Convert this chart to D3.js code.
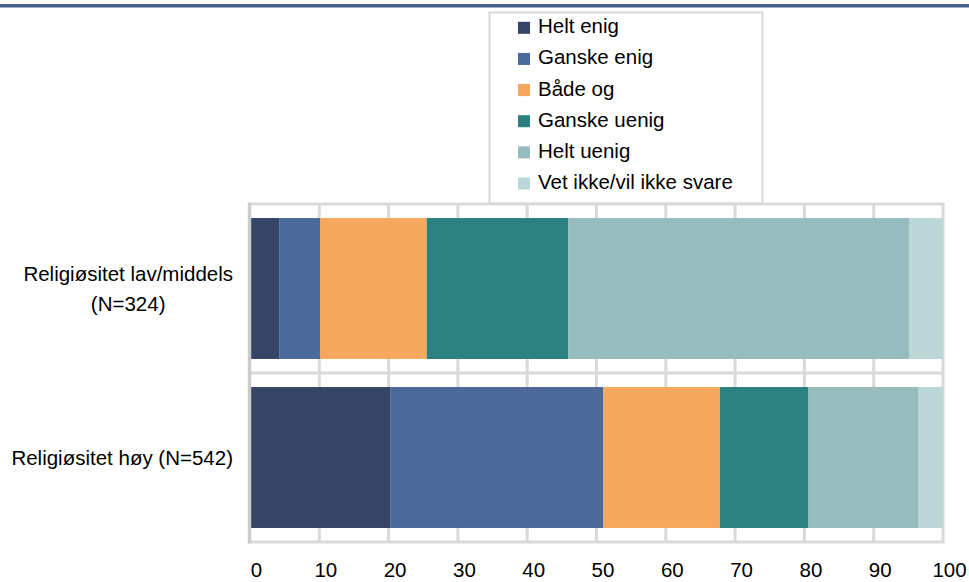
<!DOCTYPE html>
<html>
<head>
<meta charset="utf-8">
<script src="https://cdn.jsdelivr.net/npm/d3@7"></script>
<style>
  html, body { margin: 0; padding: 0; background: #ffffff; }
  svg { display: block; font-family: "Liberation Sans", Arial, sans-serif; }
</style>
</head>
<body>
<svg id="chart" width="969" height="582"></svg>
<script>
// Respondent groups (one stacked bar each), with line breaks for the axis labels
const categories = ["Religiøsitet lav/middels (N=324)", "Religiøsitet høy (N=542)"];
const categoryLines = [["Religiøsitet lav/middels", "(N=324)"], ["Religiøsitet høy (N=542)"]];

// Answer options, in stacking order
const seriesNames = ["Helt enig", "Ganske enig", "Både og", "Ganske uenig", "Helt uenig", "Vet ikke/vil ikke svare"];

// Percentages per group for each answer option
const heltEnig    = [4.2, 20.3];
const ganskeEnig  = [5.9, 30.7];
const badeOg      = [15.4, 16.8];
const ganskeUenig = [20.4, 12.8];
const heltUenig   = [49.2, 15.9];
const vetIkke     = [4.9, 3.5];

const seriesColors = ["#344566", "#4b6a9b", "#f6a95e", "#2b817f", "#97bcbd", "#bcd7d8"];

// Axis ticks
const xTicks = [0, 10, 20, 30, 40, 50, 60, 70, 80, 90, 100];

const seriesValues = [heltEnig, ganskeEnig, badeOg, ganskeUenig, heltUenig, vetIkke];
const rows = categories.map((c, i) => {
  const r = { category: c };
  seriesNames.forEach((s, j) => { r[s] = seriesValues[j][i]; });
  return r;
});

const svg = d3.select("#chart");
const W = 969, H = 582;
const plot = { left: 250, right: 943, top: 204, bottom: 542 };
const gridColor = "#d9d9d9";
const fontSize = "20.5px";

// Top rule
svg.append("rect").attr("x", 0).attr("y", 4).attr("width", W).attr("height", 3.5).attr("fill", "#44608a");

const x = d3.scaleLinear().domain([0, 100]).range([plot.left, plot.right]);
const y = d3.scaleBand().domain(categories).range([plot.top, plot.bottom])
  .paddingInner(0.166).paddingOuter(0.083);

// Legend
const legend = svg.append("g");
legend.append("rect")
  .attr("x", 489.5).attr("y", 12.5).attr("width", 273).attr("height", 191)
  .attr("fill", "#ffffff").attr("stroke", gridColor).attr("stroke-width", 2);
const legendItem = legend.selectAll("g.item").data(seriesNames).join("g")
  .attr("class", "item")
  .attr("transform", (d, i) => `translate(518, ${33.3 + i * 31.14})`);
legendItem.append("rect")
  .attr("x", 0).attr("y", -11.5).attr("width", 12).attr("height", 12)
  .attr("fill", (d, i) => seriesColors[i]);
legendItem.append("text")
  .attr("x", 20).attr("y", 0)
  .attr("font-size", fontSize).attr("fill", "#000")
  .text(d => d);

// Grid: vertical lines at each tick, horizontal lines at band boundaries, and frame
const grid = svg.append("g");
grid.selectAll("line.v").data(xTicks.slice(1)).join("line")
  .attr("class", "v")
  .attr("x1", d => x(d)).attr("x2", d => x(d))
  .attr("y1", plot.top).attr("y2", plot.bottom)
  .attr("stroke", gridColor).attr("stroke-width", 3);
const bandEdges = [plot.top, (plot.top + plot.bottom) / 2, plot.bottom];
grid.selectAll("line.h").data(bandEdges).join("line")
  .attr("class", "h")
  .attr("x1", plot.left).attr("x2", plot.right + 1.5)
  .attr("y1", d => d).attr("y2", d => d)
  .attr("stroke", gridColor).attr("stroke-width", 3);

// Stacked bars
const stack = d3.stack().keys(seriesNames);
const layers = stack(rows);
svg.append("g").selectAll("g").data(layers).join("g")
  .attr("fill", (d, i) => seriesColors[i])
  .selectAll("rect").data(d => d).join("rect")
  .attr("x", d => x(d[0]))
  .attr("width", d => x(d[1]) - x(d[0]))
  .attr("y", d => y(d.data.category))
  .attr("height", y.bandwidth());

// Left axis line
svg.append("line")
  .attr("x1", plot.left - 0.5).attr("x2", plot.left - 0.5)
  .attr("y1", plot.top - 1.5).attr("y2", plot.bottom + 1.5)
  .attr("stroke", "#cccccc").attr("stroke-width", 3.5);

// Category labels
const labelRight = 233;
const catG = svg.append("g").attr("font-size", fontSize).attr("fill", "#000");
categories.forEach((c, i) => {
  const lines = categoryLines[i];
  const cy = y(c) + y.bandwidth() / 2;
  const lh = 30;
  const g = catG.append("g");
  const texts = lines.map((ln, k) => g.append("text")
    .attr("y", cy + 7 + (k - (lines.length - 1) / 2) * lh)
    .attr("text-anchor", "middle")
    .text(ln));
  const maxW = d3.max(texts, t => t.node().getComputedTextLength());
  texts.forEach(t => t.attr("x", labelRight - maxW / 2));
});

// Bottom axis labels
const xAxis = d3.axisBottom(x).tickValues(xTicks).tickSize(0).tickPadding(0).tickFormat(d3.format("d"));
const axG = svg.append("g").attr("transform", "translate(6, 577)").call(xAxis);
axG.select(".domain").remove();
axG.selectAll("text")
  .attr("y", 0).attr("dy", 0)
  .attr("font-size", fontSize)
  .attr("font-family", "Liberation Sans, Arial, sans-serif")
  .attr("fill", "#000");
</script>
</body>
</html>
